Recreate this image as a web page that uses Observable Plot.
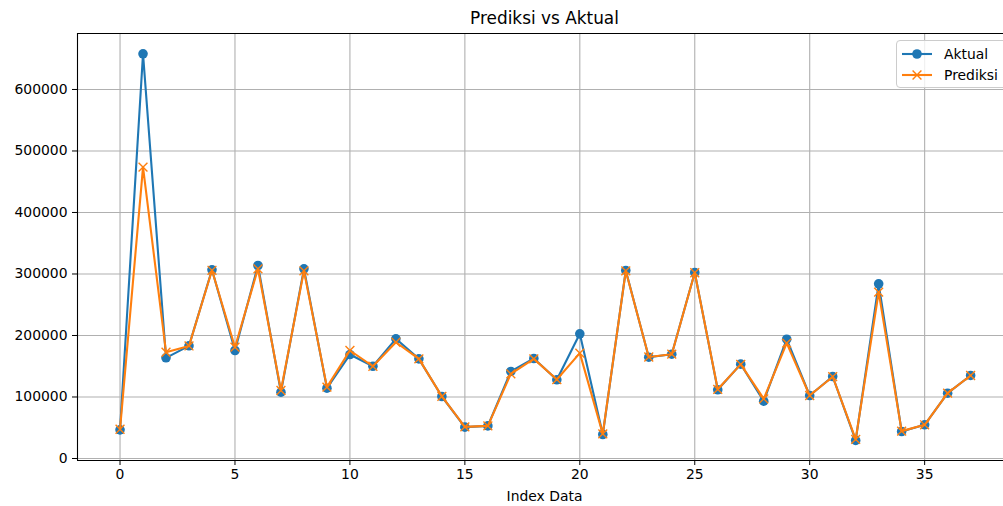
<!DOCTYPE html>
<html>
<head>
<meta charset="utf-8">
<script src="https://cdn.jsdelivr.net/npm/d3@7"></script>
<script src="https://cdn.jsdelivr.net/npm/@observablehq/plot@0.6"></script>
<style>
  body { margin: 0; overflow: hidden; background: #fff; font-family: "DejaVu Sans", sans-serif; }
  #wrap { position: relative; width: 1003px; height: 506px; overflow: hidden; }
  #title { margin-left: 76px; width: 937px; height: 24px; padding-top: 4px; line-height: 28px; text-align: center; font-size: 16.9px; color: #000; white-space: nowrap; }
  #xlabel { margin-left: 76px; width: 937px; height: 20px; line-height: 20px; text-align: center; font-size: 13.9px; color: #000; white-space: nowrap; }
  #legend { position: absolute; left: 896px; top: 40px; width: 120px; height: 48px; border: 1px solid #cccccc; border-radius: 4px; background: rgba(255,255,255,0.8); box-sizing: border-box; }
  #legend svg { position: absolute; left: 0; top: 0; }
  #chart svg { display: block; }
</style>
</head>
<body>
<div id="wrap">
  <div id="title">Prediksi vs Aktual</div>
  <div id="chart"></div>
  <div id="xlabel">Index Data</div>
  <div id="legend"></div>
</div>
<script>
// ---- data ----
const indexData = [0,1,2,3,4,5,6,7,8,9,10,11,12,13,14,15,16,17,18,19,20,21,22,23,24,25,26,27,28,29,30,31,32,33,34,35,36,37];
const aktual = [46600, 658000, 163700, 183200, 306800, 175600, 313800, 107800, 308400, 114300,
                169000, 150000, 194600, 162000, 100800, 51000, 53000, 141500, 162600, 128000,
                202700, 39000, 305700, 164700, 169600, 302400, 111700, 153400, 93200, 194000,
                102400, 133300, 29300, 284000, 43900, 54800, 106200, 135000];
const prediksi = [47500, 473700, 172800, 183000, 306000, 181000, 308400, 110500, 305000, 116000,
                  175600, 150000, 189000, 162000, 101000, 51500, 53000, 137700, 162000, 128500,
                  171300, 40000, 305000, 165000, 169600, 302000, 112500, 153000, 97000, 187500,
                  102400, 133000, 31000, 270500, 44500, 54800, 106200, 135000];
const xTicks = [0, 5, 10, 15, 20, 25, 30, 35];
const yTicks = [0, 100000, 200000, 300000, 400000, 500000, 600000];
const seriesNames = ["Aktual", "Prediksi"];
const seriesColors = ["#1f77b4", "#ff7f0e"];

// ---- axis extents (matplotlib-like margins; right side cut by the figure edge) ----
const xDomain = [-1.85, 38.43];
const yDomain = [-3250, 691000];

const rows = indexData.map((i, k) => ({ i, a: aktual[k], p: prediksi[k] }));

const chart = Plot.plot({
  width: 1003,
  height: 458,
  marginLeft: 77,
  marginRight: 0,
  marginTop: 5,
  marginBottom: 26,
  style: { fontFamily: "DejaVu Sans", fontSize: "13.9px", color: "#000", background: "transparent", overflow: "visible" },
  x: { domain: xDomain, ticks: xTicks, tickFormat: d => String(d), tickSize: 5, tickPadding: 4, label: null },
  y: { domain: yDomain, ticks: yTicks, tickFormat: d => String(d), tickSize: 5, tickPadding: 5, label: null },
  marks: [
    Plot.gridX(xTicks, { stroke: "#b0b0b0", strokeOpacity: 1, strokeWidth: 1.1 }),
    Plot.gridY(yTicks, { stroke: "#b0b0b0", strokeOpacity: 1, strokeWidth: 1.1 }),
    Plot.lineY(rows, { x: "i", y: "a", stroke: seriesColors[0], strokeWidth: 2.1 }),
    Plot.dot(rows, { x: "i", y: "a", fill: seriesColors[0], r: 4.8 }),
    Plot.lineY(rows, { x: "i", y: "p", stroke: seriesColors[1], strokeWidth: 2.1 }),
    Plot.dot(rows, { x: "i", y: "p", symbol: "times", stroke: seriesColors[1], r: 4.1, strokeWidth: 1.4 }),
    Plot.ruleX([xDomain[0]], { stroke: "#000", strokeWidth: 1.1 }),
    Plot.ruleY(yDomain, { stroke: "#000", strokeWidth: 1.1 })
  ]
});
document.getElementById("chart").appendChild(chart);

// ---- legend ----
const ns = "http://www.w3.org/2000/svg";
const lg = document.createElementNS(ns, "svg");
lg.setAttribute("width", 120);
lg.setAttribute("height", 48);
seriesNames.forEach((name, k) => {
  const cy = 13 + k * 21;
  const line = document.createElementNS(ns, "line");
  line.setAttribute("x1", 5); line.setAttribute("x2", 35);
  line.setAttribute("y1", cy); line.setAttribute("y2", cy);
  line.setAttribute("stroke", seriesColors[k]); line.setAttribute("stroke-width", 2.1);
  lg.appendChild(line);
  if (k === 0) {
    const c = document.createElementNS(ns, "circle");
    c.setAttribute("cx", 20); c.setAttribute("cy", cy); c.setAttribute("r", 4.8);
    c.setAttribute("fill", seriesColors[k]);
    lg.appendChild(c);
  } else {
    const p = document.createElementNS(ns, "path");
    p.setAttribute("d", d3.symbol(d3.symbolTimes, Math.PI * 4.1 * 4.1)());
    p.setAttribute("transform", `translate(20,${cy})`);
    p.setAttribute("stroke", seriesColors[k]); p.setAttribute("stroke-width", 1.4); p.setAttribute("fill", "none");
    lg.appendChild(p);
  }
  const t = document.createElementNS(ns, "text");
  t.setAttribute("x", 47); t.setAttribute("y", cy);
  t.setAttribute("dy", "0.35em");
  t.setAttribute("font-family", "DejaVu Sans");
  t.setAttribute("font-size", "13.9px");
  t.setAttribute("fill", "#000");
  t.textContent = name;
  lg.appendChild(t);
});
document.getElementById("legend").appendChild(lg);
</script>
</body>
</html>
